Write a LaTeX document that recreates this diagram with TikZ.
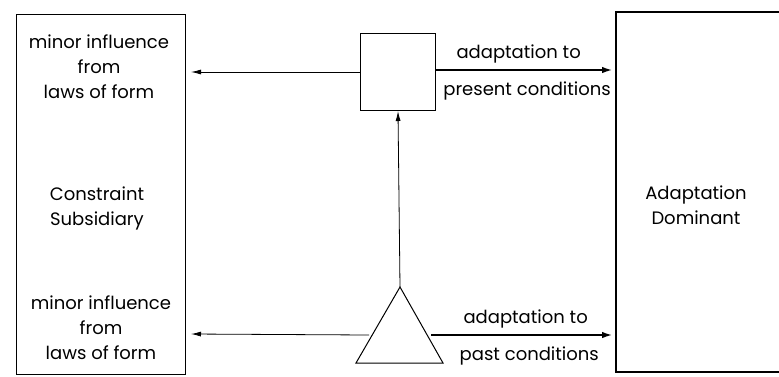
\documentclass[tikz,border=0pt]{standalone}
\usepackage{fontspec}
\setmainfont{Poppins}
\usetikzlibrary{arrows.meta}
\begin{document}
\begin{tikzpicture}[x=1pt,y=-1pt,
  lbl/.style={font=\fontsize{18}{25}\selectfont, align=center, inner sep=0pt},
  thinarrow/.style={-{Latex[length=10pt,width=5pt]}, line width=0.8pt},
  thickarrow/.style={-{Latex[length=11pt,width=6.5pt]}, line width=2.2pt},
  boxline/.style={draw, line width=1pt}]
\useasboundingbox (0,0) rectangle (779,376);
\draw[boxline] (16,14) rectangle (185,374);
\draw[boxline, line width=2.2pt] (781,12) -- (616,12) -- (616,372) -- (781,372);
\node[boxline, minimum width=75pt, minimum height=77pt, inner sep=0pt] (sq) at (398,72) {};
\path (400,287) coordinate (apex) (356,363) coordinate (bl) (443,363) coordinate (br);
\draw[line width=1pt] (apex) -- (bl) -- (br) -- cycle;
\coordinate (lbtop) at (191,72);
\coordinate (lbbot) at (191,334);
\coordinate (rbtop) at (613,70);
\coordinate (rbbot) at (613,335);
\coordinate (triL) at (369,335);
\coordinate (triR) at (431,335);
\draw[thinarrow] (sq.west) -- (lbtop);
\draw[thickarrow] (sq.east |- rbtop) -- (rbtop);
\draw[thinarrow] (apex) -- (sq.south);
\draw[thinarrow] (triL) -- (lbbot);
\draw[thickarrow] (triR) -- (rbbot);
\node[lbl] (t1) at (99,67) {minor influence\\from\\laws of form};
\node[lbl] (t2) at (97,208) {Constraint\\Subsidiary};
\node[lbl] (t3) at (101,328) {minor influence\\from\\laws of form};
\node[lbl] (t4) at (696,205) {Adaptation\\Dominant};
\node[lbl, anchor=base east] (a1) at (581,58) {adaptation to};
\node[lbl, anchor=base east] (a2) at (611,95) {present conditions};
\node[lbl, anchor=base east] (a3) at (588,323) {adaptation to};
\node[lbl, anchor=base east] (a4) at (599,360) {past conditions};
\end{tikzpicture}
\end{document}
